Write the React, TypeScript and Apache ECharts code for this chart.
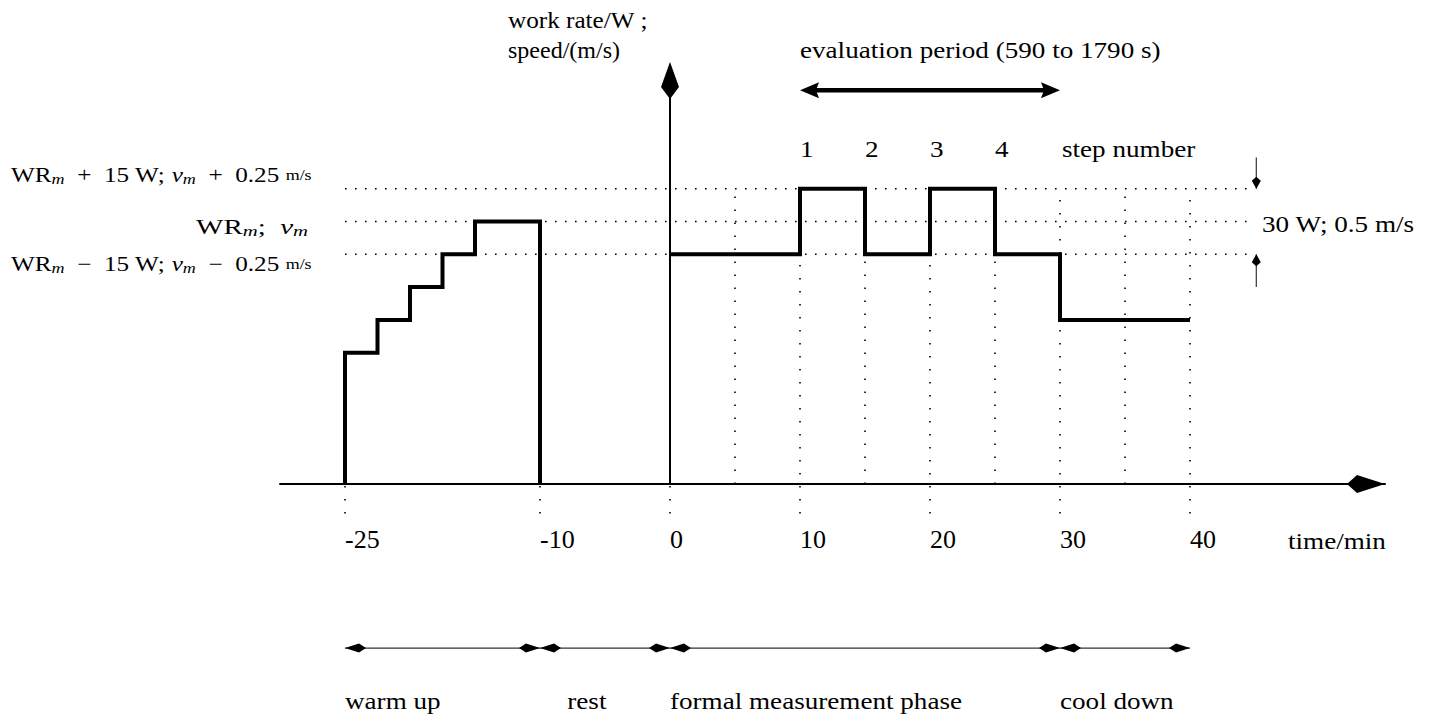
import React, { useEffect, useRef } from 'react';
import * as echarts from 'echarts';

// ---- layout constants (not data) ----
const W = 1434;
const H = 717;
const X_MIN = -30;
const X_MAX = 55;
const Y_MIN = 0;
const Y_MAX = 14.75;
const GRID_LEFT = 280;
const GRID_RIGHT = 49;
const GRID_BOTTOM = 233;
const SERIF = 'Liberation Serif';

// ---- data ----
const tickLabels = [-25, -10, 0, 10, 20, 30, 40];

const warmTimes = [-25, -22.5, -20, -17.5, -15, -10];
const warmLevels = [4, 5, 6, 7, 8];

const formalTimes = [0, 10, 15, 20, 25, 30, 40];
const formalLevels = [7, 9, 7, 9, 7, 5];

const refLevels = [7, 8, 9]; // WRm-15W ; WRm ; WRm+15W
const refStart = -25;
const refEnd = 44.8;

const gridTimes = [-25, -10, 0, 5, 10, 15, 20, 25, 30, 35, 40];
const gridTops = [0, 0, 0, 9, 9, 7, 9, 7, 9, 9, 9];
const gridBottoms = [-0.9, -0.9, -0.9, 0, -0.9, 0, -0.9, 0, -0.9, 0, -0.9];

const stepNumbers = ['1', '2', '3', '4'];
const stepTimes = [10, 15, 20, 25];
const stepLabelLevel = 10.2;

const evalStart = 10;
const evalEnd = 30;
const evalLevel = 12;

const phaseBounds = [-25, -10, 0, 30, 40];
const phaseNames = ['warm up', 'rest', 'formal measurement phase', 'cool down'];
const phaseLabelTimes = [-25, -7.9, 0, 30];
const phaseLevel = -5;
const phaseLabelLevel = -6.62;

const yAxisTip = 12.86;
const rangeTime = 45.1;
const rangeTop = 9.95;
const rangeHigh = 9;
const rangeLow = 7;
const rangeBottom = 6;

// ---- helpers ----
const pxPerT = (W - GRID_LEFT - GRID_RIGHT) / (X_MAX - X_MIN);
const pxPerL = (H - GRID_BOTTOM) / (Y_MAX - Y_MIN);
const X = (t: number) => GRID_LEFT + (t - X_MIN) * pxPerT;
const Y = (l: number) => (Y_MAX - l) * pxPerL;

function stepPoints(times: number[], levels: number[], fromZero: boolean, toZero: boolean) {
  const pts: number[][] = [];
  if (fromZero) pts.push([times[0], 0]);
  levels.forEach((l, i) => {
    pts.push([times[i], l]);
    pts.push([times[i + 1], l]);
  });
  if (toZero) pts.push([times[times.length - 1], 0]);
  return pts;
}

function lineSeries(data: number[][], lineStyle: any, z = 2) {
  return {
    type: 'line',
    data,
    showSymbol: false,
    symbol: 'none',
    silent: true,
    clip: false,
    z,
    lineStyle: { color: '#000', cap: 'butt', join: 'miter', ...lineStyle },
  };
}

function headSeries(path: string, size: number[], offset: number[], data: number[][]) {
  return {
    type: 'scatter',
    symbol: 'path://' + path,
    symbolSize: size,
    symbolOffset: offset,
    itemStyle: { color: '#000', opacity: 1 },
    data,
    silent: true,
    clip: false,
    z: 6,
  };
}

function txt(text: string, x: number, y: number, opts: any = {}) {
  return {
    type: 'text',
    x,
    y,
    scaleX: opts.sx ?? 1.13,
    silent: true,
    z: 100,
    style: {
      text,
      x: 0,
      y: 0,
      fill: '#000',
      fontFamily: SERIF,
      fontSize: opts.size ?? 24,
      align: opts.align ?? 'left',
      verticalAlign: 'middle',
      rich: opts.rich,
    },
  };
}

const mathRich = {
  r: { fontFamily: SERIF, fontSize: 21, lineHeight: 24, fill: '#000' },
  i: { fontFamily: SERIF, fontSize: 21, fontStyle: 'italic', lineHeight: 24, fill: '#000' },
  s: { fontFamily: SERIF, fontSize: 15, fontStyle: 'italic', lineHeight: 16, verticalAlign: 'bottom', fill: '#000' },
  u: { fontFamily: SERIF, fontSize: 15, lineHeight: 24, fill: '#000' },
};

export default function App() {
  const ref = useRef<HTMLDivElement>(null);

  useEffect(() => {
    if (!ref.current) return;
    const chart = echarts.init(ref.current, null, { renderer: 'svg', width: W, height: H });

    const series: any[] = [];

    // horizontal dotted reference lines
    refLevels.forEach((l) => {
      series.push(lineSeries([[refStart, l], [refEnd, l]], { width: 1.6, type: [1.6, 8.4] }, 1));
    });
    // vertical dotted lines
    gridTimes.forEach((t, i) => {
      series.push(lineSeries([[t, gridBottoms[i]], [t, gridTops[i]]], { width: 1.6, type: [1.6, 11.4] }, 1));
    });
    // work-rate profiles
    series.push(lineSeries(stepPoints(warmTimes, warmLevels, true, true), { width: 4 }, 4));
    series.push(lineSeries(stepPoints(formalTimes, formalLevels, false, false), { width: 4 }, 4));
    // vertical axis
    series.push(lineSeries([[0, 0], [0, yAxisTip - 0.6]], { width: 2 }, 3));
    // evaluation period arrow
    const evalInset = 12 / pxPerT;
    series.push(lineSeries([[evalStart + evalInset, evalLevel], [evalEnd - evalInset, evalLevel]], { width: 4.5 }, 4));
    // phase arrows
    for (let i = 0; i < phaseBounds.length - 1; i++) {
      series.push(lineSeries([[phaseBounds[i], phaseLevel], [phaseBounds[i + 1], phaseLevel]], { width: 1.2, color: '#333' }, 3));
    }
    // range arrows (30 W; 0.5 m/s)
    series.push(lineSeries([[rangeTime, rangeTop], [rangeTime, rangeHigh]], { width: 1.2, color: '#333' }, 3));
    series.push(lineSeries([[rangeTime, rangeBottom], [rangeTime, rangeLow]], { width: 1.2, color: '#333' }, 3));

    // arrowheads
    series.push(headSeries('M0,9L10,0L38,9L10,18Z', [38, 18], [-19, 0], [[X_MAX, 0]]));
    series.push(headSeries('M9,0L18,25L9,37L0,25Z', [18, 37], [0, 18.5], [[0, yAxisTip]]));
    series.push(headSeries('M0,8L19,0L16,8L19,16Z', [19, 16], [9.5, 0], [[evalStart, evalLevel]]));
    series.push(headSeries('M19,8L0,0L3,8L0,16Z', [19, 16], [-9.5, 0], [[evalEnd, evalLevel]]));
    series.push(
      headSeries('M0,4.5L14,0L21,4.5L14,9Z', [21, 9], [10.5, 0], phaseBounds.slice(0, -1).map((t) => [t, phaseLevel]))
    );
    series.push(
      headSeries('M21,4.5L7,0L0,4.5L7,9Z', [21, 9], [-10.5, 0], phaseBounds.slice(1).map((t) => [t, phaseLevel]))
    );
    series.push(headSeries('M4.5,0L9,4L4.5,12L0,4Z', [9, 12], [0, -6], [[rangeTime, rangeHigh]]));
    series.push(headSeries('M4.5,12L9,8L4.5,0L0,8Z', [9, 12], [0, 6], [[rangeTime, rangeLow]]));

    const graphic: any[] = [
      txt('work rate/W ;', 508, 20, { sx: 1.05 }),
      txt('speed/(m/s)', 508, 50, { sx: 1.0 }),
      txt('evaluation period (590 to 1790 s)', X(evalStart), 50),
      ...stepNumbers.map((s, i) => txt(s, X(stepTimes[i]), Y(stepLabelLevel))),
      txt('step number', X(evalEnd) + 2, Y(stepLabelLevel)),
      txt('30 W; 0.5 m/s', 1262, Y(8) + 3),
      txt('time/min', 1288, 541),
      ...phaseNames.map((n, i) => txt(n, X(phaseLabelTimes[i]), Y(phaseLabelLevel))),
      txt('{r|WR}{s|m}{r|  +  15 W; }{i|v}{s|m}{r|  +  0.25 }{u|m/s}', 11, 175, { rich: mathRich, sx: 1.2 }),
      txt('{r|WR}{s|m}{r|;  }{i|v}{s|m}', 308, 227, { rich: mathRich, sx: 1.38, align: 'right' }),
      txt('{r|WR}{s|m}{r|  −  15 W; }{i|v}{s|m}{r|  −  0.25 }{u|m/s}', 11, 264, { rich: mathRich, sx: 1.2 }),
    ];

    chart.setOption({
      animation: false,
      backgroundColor: '#fff',
      grid: {
        left: GRID_LEFT,
        right: GRID_RIGHT,
        top: 0,
        bottom: GRID_BOTTOM,
        containLabel: false,
        outerBoundsMode: 'none',
      },
      xAxis: {
        type: 'value',
        min: X_MIN,
        max: X_MAX,
        interval: 5,
        axisLine: { show: true, onZero: false, lineStyle: { color: '#000', width: 2 } },
        axisTick: { show: false },
        splitLine: { show: false },
        axisLabel: {
          show: true,
          formatter: (v: number) => (tickLabels.includes(Math.round(v)) ? String(Math.round(v)) : ''),
          align: 'left',
          margin: 42,
          fontSize: 26,
          fontFamily: SERIF,
          color: '#000',
          showMinLabel: true,
          showMaxLabel: true,
          hideOverlap: false,
        },
      },
      yAxis: { type: 'value', min: Y_MIN, max: Y_MAX, show: false },
      series,
      graphic,
    });

    return () => chart.dispose();
  }, []);

  return (
    <div
      ref={ref}
      style={{ position: 'fixed', left: 0, top: 0, width: W, height: H, background: '#fff' }}
    />
  );
}
